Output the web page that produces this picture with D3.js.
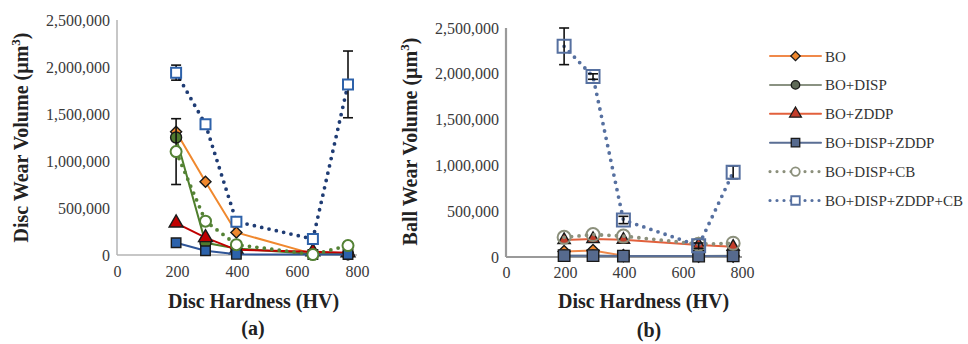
<!DOCTYPE html>
<html><head><meta charset="utf-8">
<script src="https://cdn.jsdelivr.net/npm/d3@7"></script>
<style>
html,body{margin:0;padding:0;background:#fff;}
svg{display:block;font-family:"Liberation Serif","Times New Roman",serif;}
</style></head><body>
<svg id="chart" width="968" height="344"></svg>
<script>
// Disc hardness of the five test discs (HV)
const hardness = [197, 295, 398, 653, 770];
const seriesNames = ["BO", "BO+DISP", "BO+ZDDP", "BO+DISP+ZDDP", "BO+DISP+CB", "BO+DISP+ZDDP+CB"];
const xTicks = [0, 200, 400, 600, 800];
const yTicks = [0, 500000, 1000000, 1500000, 2000000, 2500000];

// Disc wear volume (µm³)
const discBO           = [1310000, 780000, 240000, 12000, 8000];
const discBODisp       = [1250000, 130000, 70000, 10000, 8000];
const discBOZddp       = [340000, 185000, 55000, 35000, 25000];
const discBODispZddp   = [130000, 45000, 7000, 5000, 5000];
const discBODispCB     = [1100000, 360000, 110000, 5000, 100000];
const discBODispZddpCB = [1940000, 1390000, 355000, 170000, 1815000];
const discErrCB        = [350000, 0, 0, 0, 35000];
const discErrZddpCB    = [80000, 0, 0, 0, 355000];

// Ball wear volume (µm³)
const ballBO           = [60000, 70000, 15000, 10000, 10000];
const ballBODisp       = [15000, 15000, 12000, 12000, 15000];
const ballBOZddp       = [185000, 197000, 188000, 131000, 112000];
const ballBODispZddp   = [15000, 15000, 10000, 10000, 12000];
const ballBODispCB     = [215000, 245000, 228000, 140000, 150000];
const ballBODispZddpCB = [2300000, 1970000, 404000, 123000, 925000];
const ballErrZddpCB    = [200000, 30000, 40000, 30000, 70000];

// marker shape / line style per series
const seriesStyle = [
  {shape: "diamond",  open: false, dotted: false},
  {shape: "circle",   open: false, dotted: false},
  {shape: "triangle", open: false, dotted: false},
  {shape: "square",   open: false, dotted: false},
  {shape: "circle",   open: true,  dotted: true},
  {shape: "square",   open: true,  dotted: true}
];

const paletteA = [
  {line: "#f0882e", fill: "#f0882e", stroke: "#1a1a1a"},
  {line: "#4f7f2c", fill: "#4f7a2e", stroke: "#1a1a1a"},
  {line: "#c00000", fill: "#c00000", stroke: "#1a1a1a"},
  {line: "#2f5597", fill: "#2c62ab", stroke: "#1a1a1a"},
  {line: "#548235", fill: "#ffffff", stroke: "#548235"},
  {line: "#1f3c74", fill: "#ffffff", stroke: "#2e62aa"}
];
const paletteB = [
  {line: "#f0894a", fill: "#f0882e", stroke: "#1a1a1a"},
  {line: "#8a9282", fill: "#5f6a58", stroke: "#1a1a1a"},
  {line: "#e2603c", fill: "#c33d2a", stroke: "#1a1a1a"},
  {line: "#5a6e94", fill: "#566a8e", stroke: "#1a1a1a"},
  {line: "#8c907c", fill: "none",    stroke: "#8c907c"},
  {line: "#5670a0", fill: "none",    stroke: "#5670a0"}
];

const svg = d3.select("#chart");
const fmt = d3.format(",");

function markerPath(shape, size) {
  if (shape === "square")   return d3.symbol().type(d3.symbolSquare).size(size * size)();
  if (shape === "diamond")  return d3.symbol().type(d3.symbolSquare).size(size * size)();
  if (shape === "circle")   return d3.symbol().type(d3.symbolCircle).size(Math.PI * size * size / 4)();
  return d3.symbol().type(d3.symbolTriangle).size(size * size * 0.5)();
}

function drawMarker(g, style, col, x, y, size, sw) {
  g.append("path")
    .attr("d", markerPath(style.shape, style.shape === "diamond" ? size * 0.78 : size))
    .attr("transform", `translate(${x},${y})` + (style.shape === "diamond" ? " rotate(45)" : ""))
    .attr("fill", col.fill)
    .attr("stroke", col.stroke)
    .attr("stroke-width", sw);
}

function drawPanel(p) {
  const g = svg.append("g");
  const x = d3.scaleLinear().domain([0, 800]).range(p.xRange);
  const y = d3.scaleLinear().domain([0, 2500000]).range(p.yRange);

  // axes
  const ya = g.append("g").attr("transform", `translate(${p.xRange[0]},0)`)
    .call(d3.axisLeft(y).tickValues(yTicks).tickFormat(fmt).tickSize(0).tickPadding(7));
  const xa = g.append("g").attr("transform", `translate(0,${p.yRange[0]})`)
    .call(d3.axisBottom(x).tickValues(xTicks).tickSize(0).tickPadding(p.xPad));
  [ya, xa].forEach(a => {
    a.attr("font-family", null).attr("font-size", null);
    a.select(".domain").remove();
    a.selectAll("text").style("font-size", "16px").attr("fill", "#3a3a3a")
      .style("font-family", "'Liberation Serif', serif");
  });
  g.append("line").attr("x1", p.xRange[0]).attr("x2", p.xRange[0])
    .attr("y1", p.yRange[0]).attr("y2", p.yRange[1])
    .attr("stroke", p.axisColor).attr("stroke-width", p.axisWidth);
  g.append("line").attr("x1", p.xRange[0]).attr("x2", p.xRange[1])
    .attr("y1", p.yRange[0]).attr("y2", p.yRange[0])
    .attr("stroke", p.axisColor).attr("stroke-width", p.axisWidth);

  const line = d3.line().x((d, i) => x(hardness[i])).y(d => y(d));

  p.series.forEach((vals, si) => {
    const st = seriesStyle[si], col = p.palette[si];
    const sg = g.append("g");
    sg.append("path").attr("d", line(vals)).attr("fill", "none")
      .attr("stroke", col.line)
      .attr("stroke-width", st.dotted ? 3.8 : 2)
      .attr("stroke-linecap", "round")
      .attr("stroke-dasharray", st.dotted ? "0,7.5" : null);
    const err = p.errors[si];
    if (err) {
      vals.forEach((v, i) => {
        if (!err[i]) return;
        const cx = x(hardness[i]), y1 = y(v + err[i]), y2 = y(v - err[i]);
        sg.append("line").attr("x1", cx).attr("x2", cx).attr("y1", y1).attr("y2", y2)
          .attr("stroke", "#111").attr("stroke-width", 1.6);
        [y1, y2].forEach(yy => sg.append("line")
          .attr("x1", cx - 5).attr("x2", cx + 5).attr("y1", yy).attr("y2", yy)
          .attr("stroke", "#111").attr("stroke-width", 1.6));
      });
    }
    vals.forEach((v, i) => {
      drawMarker(sg, st, col, x(hardness[i]), y(v), p.markerSize[si], st.open ? 2 : 1.4);
    });
  });

  // titles
  g.append("text").attr("x", p.xTitleX).attr("y", 308).attr("text-anchor", "middle")
    .attr("font-size", 20).attr("font-weight", "bold").attr("fill", "#222")
    .text("Disc Hardness (HV)");
  const yt = g.append("text")
    .attr("transform", `translate(${p.yTitleX},${p.yTitleY}) rotate(-90)`)
    .attr("text-anchor", "middle").attr("font-size", 20).attr("font-weight", "bold").attr("fill", "#222");
  yt.append("tspan").text(p.yTitle + " (µm");
  yt.append("tspan").attr("font-size", 13).attr("dy", -8).text("3");
  yt.append("tspan").attr("dy", 8).text(")");
  g.append("text").attr("x", p.tagX).attr("y", p.tagY).attr("text-anchor", "middle")
    .attr("font-size", 20).attr("font-weight", "bold").attr("fill", "#222")
    .text(p.tag);
}

drawPanel({
  xRange: [117, 357], yRange: [255, 20], xPad: 11,
  axisColor: "#b5b5b5", axisWidth: 1.5,
  series: [discBO, discBODisp, discBOZddp, discBODispZddp, discBODispCB, discBODispZddpCB],
  errors: [null, null, null, null, discErrCB, discErrZddpCB],
  palette: paletteA,
  markerSize: [10, 11, 13, 9.5, 11, 10],
  yTitle: "Disc Wear Volume", yTitleX: 28, yTitleY: 137.5,
  xTitleX: 253.5, tag: "(a)", tagX: 253, tagY: 335
});

drawPanel({
  xRange: [506, 742], yRange: [257, 28], xPad: 10,
  axisColor: "#9a9a9a", axisWidth: 2.2,
  series: [ballBO, ballBODisp, ballBOZddp, ballBODispZddp, ballBODispCB, ballBODispZddpCB],
  errors: [null, null, null, null, null, ballErrZddpCB],
  palette: paletteB,
  markerSize: [11, 11, 11.5, 11.5, 13, 13],
  yTitle: "Ball Wear Volume", yTitleX: 417, yTitleY: 141.5,
  xTitleX: 643.5, tag: "(b)", tagX: 649, tagY: 337
});

// legend
const legend = svg.append("g");
seriesNames.forEach((name, i) => {
  const yy = 56 + i * 28.9;
  const st = seriesStyle[i], col = paletteB[i];
  legend.append("line").attr("x1", 770).attr("x2", 821).attr("y1", yy).attr("y2", yy)
    .attr("stroke", col.line)
    .attr("stroke-width", st.dotted ? 3.2 : 2)
    .attr("stroke-linecap", "round")
    .attr("stroke-dasharray", st.dotted ? "0,7" : null);
  drawMarker(legend, st, col.fill === "none" ? {fill: "#fff", stroke: col.stroke} : col,
    795.5, yy, st.shape === "triangle" ? 11 : 8.5, st.open ? 1.8 : 1.3);
  legend.append("text").attr("x", 825).attr("y", yy + 5.5)
    .attr("font-size", 15).attr("fill", "#333").text(name);
});
</script>
</body></html>
